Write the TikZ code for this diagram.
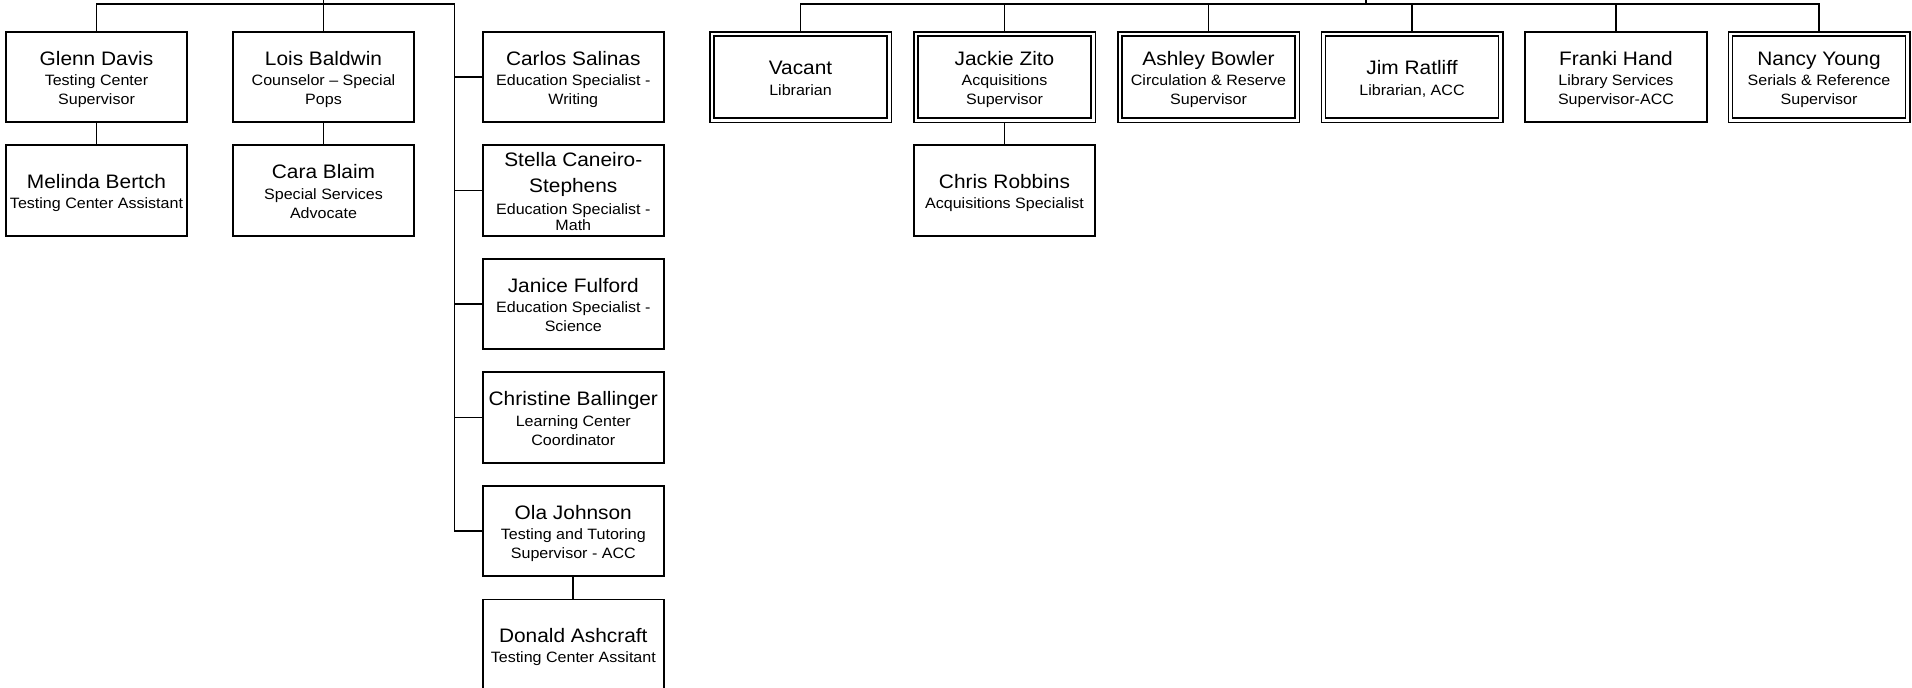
\documentclass[tikz,border=0pt]{standalone}
\usepackage{fontspec}
\newfontfamily\orgf{Liberation Sans}[FakeStretch=1.07]
\usetikzlibrary{backgrounds}
\newcommand\nm{\fontsize{19.5}{19}\selectfont\rule{0pt}{20pt}}
\newcommand\lst{\rule[-4pt]{0pt}{4pt}}
\newcommand\subf{\orgf\fontsize{15}{19}\selectfont\lineskiplimit -100pt\relax}
\tikzset{
  person/.style={draw, fill=white, line width=1.9pt, minimum width=181.5pt, minimum height=90.5pt,
    inner sep=0pt, align=center, font=\subf},
  dbl/.style={person, double, double distance=2.8pt, line width=1.5pt, minimum width=177.2pt, minimum height=86.2pt},
  link/.style={line width=1.9pt},
}
\begin{document}
\begin{tikzpicture}[x=1pt, y=-1pt]
\useasboundingbox (0,0) rectangle (1912,688);
% left group
\node[person] (glenn) at (96.5,77) {{\nm Glenn Davis}\\[1.3pt]Testing Center\\Supervisor\lst};
\node[person] (melinda) at (96.5,190.5) {{\nm Melinda Bertch}\\[1.3pt]Testing Center Assistant\lst};
\node[person] (lois) at (323.5,77) {{\nm Lois Baldwin}\\[1.3pt]Counselor – Special\\Pops\lst};
\node[person] (cara) at (323.5,190.5) {{\nm Cara Blaim}\\[1.3pt]Special Services\\Advocate\lst};
\node[person] (carlos) at (573.3,77) {{\nm Carlos Salinas}\\[1.3pt]Education Specialist -\\Writing\lst};
\node[person] (stella) at (573.3,190.5) {{\nm Stella Caneiro-}\\[7pt]{\nm Stephens}\\[2.7pt]Education Specialist -\\[-2.5pt]Math\lst};
\node[person] (janice) at (573.3,304) {{\nm Janice Fulford}\\[1.3pt]Education Specialist -\\Science\lst};
\node[person] (christine) at (573.3,417.5) {{\nm Christine Ballinger}\\[1.3pt]Learning Center\\Coordinator\lst};
\node[person] (ola) at (573.3,531) {{\nm Ola Johnson}\\[1.3pt]Testing and Tutoring\\Supervisor - ACC\lst};
\node[person] (donald) at (573.3,644.75) {{\nm Donald Ashcraft}\\[1.3pt]Testing Center Assitant\lst};
% right group
\node[dbl] (vacant) at (800.5,77) {{\nm Vacant}\\[1.3pt]Librarian\lst};
\node[dbl] (jackie) at (1004.5,77) {{\nm Jackie Zito}\\[1.3pt]Acquisitions\\Supervisor\lst};
\node[person] (chris) at (1004.5,190.5) {{\nm Chris Robbins}\\[1.3pt]Acquisitions Specialist\lst};
\node[dbl] (ashley) at (1208.5,77) {{\nm Ashley Bowler}\\[1.3pt]Circulation \& Reserve\\Supervisor\lst};
\node[dbl] (jim) at (1412,77) {{\nm Jim Ratliff}\\[1.3pt]Librarian, ACC\lst};
\node[person] (franki) at (1616,77) {{\nm Franki Hand}\\[1.3pt]Library Services\\Supervisor-ACC\lst};
\node[dbl] (nancy) at (1819,77) {{\nm Nancy Young}\\[1.3pt]Serials \& Reference\\Supervisor\lst};
% connectors
\begin{scope}[on background layer]
\fill[white] (0,0) rectangle (1912,688);
\coordinate (lpar) at (323.5,0);
\coordinate (ltrunk) at (454.5,4);
\draw[link] (glenn.north) |- (ltrunk);
\draw[link] (lpar) -- (lois.north);
\foreach \n in {carlos,stella,janice,christine,ola}
  \draw[link] (ltrunk) |- (\n.west);
\draw[link] (glenn.south) -- (melinda.north);
\draw[link] (lois.south) -- (cara.north);
\draw[link] (ola.south) -- (donald.north);
\coordinate (rpar) at (1366,0);
\coordinate (rbar) at (1366,4);
\draw[link] (vacant.north) |- (rbar) -| (nancy.north);
\draw[link] (rpar) -- (rbar);
\foreach \n in {jackie,ashley,jim,franki}
  \draw[link] (\n.north) -- (\n.north |- rbar);
\draw[link] (jackie.south) -- (chris.north);
\end{scope}
\end{tikzpicture}
\end{document}
